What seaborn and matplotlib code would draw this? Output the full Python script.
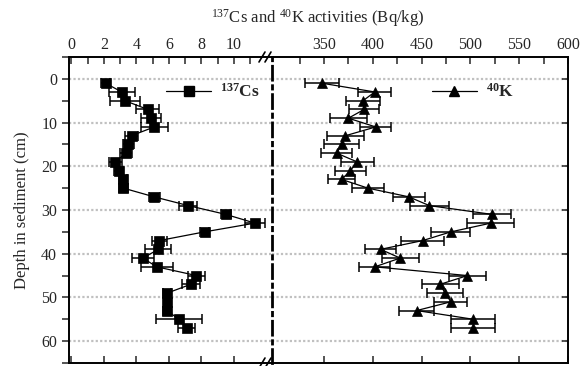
import numpy as np
import pandas as pd
import matplotlib
matplotlib.use("Agg")
import matplotlib.pyplot as plt
import seaborn as sns
from matplotlib.lines import Line2D

# ---- data ----
depth = [1, 3, 5, 7, 9, 11, 13, 15, 17, 19, 21, 23, 25, 27, 29,
         31, 33, 35, 37, 39, 41, 43, 45, 47, 49, 51, 53, 55, 57]
cs_vals = [2.1, 3.1, 3.3, 4.7, 4.9, 5.1, 3.7, 3.5, 3.35, 2.7, 2.9, 3.2, 3.2, 5.1, 7.2,
           9.5, 11.3, 8.2, 5.4, 5.35, 4.4, 5.25, 7.7, 7.35, 5.9, 5.9, 5.9, 6.6, 7.1]
cs_err = [0.28, 0.8, 0.9, 0.72, 0.6, 0.82, 0.38, 0.35, 0.35, 0.4, 0.3, 0.25, 0.3, 0.35, 0.55,
          0.3, 0.6, 0.3, 0.46, 0.79, 0.66, 0.98, 0.55, 0.57, 0.24, 0.2, 0.25, 1.41, 0.51]
k_vals = [348, 402, 390, 391, 375, 403, 372, 368, 363, 384, 377, 368, 395, 437, 458,
          522, 521, 480, 451, 408, 428, 402, 497, 469, 474, 480, 445, 503, 503]
k_err = [17, 17, 17, 15, 19, 16, 19, 18, 16, 17, 16, 14, 16, 16, 20,
         19.5, 24, 20, 22, 16, 19, 16, 19, 19, 18, 17, 18, 22.5, 22.5]

cs_ticks = [0, 2, 4, 6, 8, 10]
k_ticks = [350, 400, 450, 500, 550, 600]
depth_ticks = [0, 10, 20, 30, 40, 50, 60]

sns.set_style("ticks")
plt.rcParams['font.family'] = ['Liberation Serif', 'DejaVu Serif']
plt.rcParams['mathtext.fontset'] = 'custom'
plt.rcParams['mathtext.rm'] = 'Liberation Serif'
plt.rcParams['mathtext.bf'] = 'Liberation Serif:bold'
plt.rcParams['mathtext.it'] = 'Liberation Serif:italic'

W, H = 584, 366
fig = plt.figure(figsize=(W / 100, H / 100), dpi=100)
L, B, T, BRK, R = 69, 363, 57, 272, 568
ax1 = fig.add_axes([L / W, 1 - B / H, (BRK - L) / W, (B - T) / H])
ax2 = fig.add_axes([BRK / W, 1 - B / H, (R - BRK) / W, (B - T) / H])

df_cs = pd.DataFrame({"depth": depth, "val": cs_vals, "err": cs_err})
df_k = pd.DataFrame({"depth": depth, "val": k_vals, "err": k_err})

grid_kw = dict(color="#c0c0c0", lw=1.6, ls=(0, (1, 1)), zorder=0)
for ax in (ax1, ax2):
    for d in depth_ticks:
        ax.axhline(d, **grid_kw)

# Cs
ax1.errorbar(df_cs["val"], df_cs["depth"], xerr=df_cs["err"], fmt="none",
             ecolor="black", elinewidth=1.1, capsize=3.5, capthick=1.1, zorder=2)
sns.lineplot(data=df_cs, x="val", y="depth", orient="y", sort=False, ax=ax1,
             color="black", lw=0.9, marker="s", markersize=7, markeredgecolor="black",
             markeredgewidth=0.5, zorder=3)
# K
ax2.errorbar(df_k["val"], df_k["depth"], xerr=df_k["err"], fmt="none",
             ecolor="black", elinewidth=1.1, capsize=3.5, capthick=1.1, zorder=2)
sns.lineplot(data=df_k, x="val", y="depth", orient="y", sort=False, ax=ax2,
             color="black", lw=0.9, marker="^", markersize=7.5, markeredgecolor="black",
             markeredgewidth=0.5, zorder=3)

for ax in (ax1, ax2):
    ax.set_ylim(65, -5)
    ax.set_xlabel("")
    ax.set_ylabel("")
    for s in ax.spines.values():
        s.set_linewidth(1.4)
        s.set_color("black")

ax1.set_xlim(-0.15, 12.35)
ax2.set_xlim(296.7, 600)

# left axes ticks
ax1.xaxis.tick_top()
ax1.set_xticks(cs_ticks)
ax1.set_xticks(np.arange(1, 12, 2), minor=True)
ax1.tick_params(axis="x", which="both", top=True, bottom=True, direction="in",
                labeltop=True, labelbottom=False, labelsize=11.5, pad=3, width=1.1)
ax1.tick_params(axis="x", which="major", length=5)
ax1.tick_params(axis="x", which="minor", length=5)
ax1.set_yticks(depth_ticks)
ax1.set_yticks(np.arange(-5, 66, 10), minor=True)
ax1.tick_params(axis="y", which="both", direction="out", left=True, right=False,
                labelsize=11.5, width=1.1, length=5)
ax1.spines["right"].set_visible(False)

# right axes ticks
ax2.xaxis.tick_top()
ax2.set_xticks(k_ticks)
ax2.set_xticks(np.arange(325, 600, 50), minor=True)
ax2.tick_params(axis="x", which="both", top=True, bottom=True, direction="in",
                labeltop=True, labelbottom=False, labelsize=11.5, pad=3, width=1.1, length=5)
ax2.set_yticks(depth_ticks)
ax2.tick_params(axis="y", which="both", left=False, right=True, direction="in",
                labelleft=False, labelright=False, width=1.1, length=4)
ax2.spines["left"].set_linestyle((0, (5, 2, 1.2, 2)))
ax2.spines["left"].set_linewidth(2.0)

# minor ticks on the bottom only for majors
ax1.xaxis.set_tick_params(which="minor", bottom=False)
ax2.xaxis.set_tick_params(which="minor", bottom=False)

# break marks
for xx in (262, 268):
    for yy in (T, B):
        fig.add_artist(Line2D([(xx - 3) / W, (xx + 3) / W],
                              [1 - (yy + 5) / H, 1 - (yy - 5) / H],
                              color="black", lw=1.2, transform=fig.transFigure))

# legends
h1 = Line2D([], [], color="black", lw=0.9, marker="s", markersize=7)
ax1.legend([h1], [r"$^{\mathbf{137}}$Cs"], loc="upper right", frameon=False,
           prop={"weight": "bold", "size": 12.5}, handlelength=2.6,
           bbox_to_anchor=(0.99, 0.95), borderaxespad=0.2, handletextpad=0.5)
h2 = Line2D([], [], color="black", lw=0.9, marker="^", markersize=7.5)
ax2.legend([h2], [r"$^{\mathbf{40}}$K"], loc="upper left", frameon=False,
           prop={"weight": "bold", "size": 12.5}, handlelength=2.6,
           bbox_to_anchor=(0.505, 0.95), borderaxespad=0.2, handletextpad=0.5)

fig.text(318 / W, 1 - 18 / H, r"$^{137}$Cs and $^{40}$K activities (Bq/kg)",
         ha="center", va="center", fontsize=12)
fig.text(22 / W, 1 - 210 / H, "Depth in sediment (cm)", rotation=90,
         ha="center", va="center", fontsize=12)

fig.savefig("out.png", dpi=100)
